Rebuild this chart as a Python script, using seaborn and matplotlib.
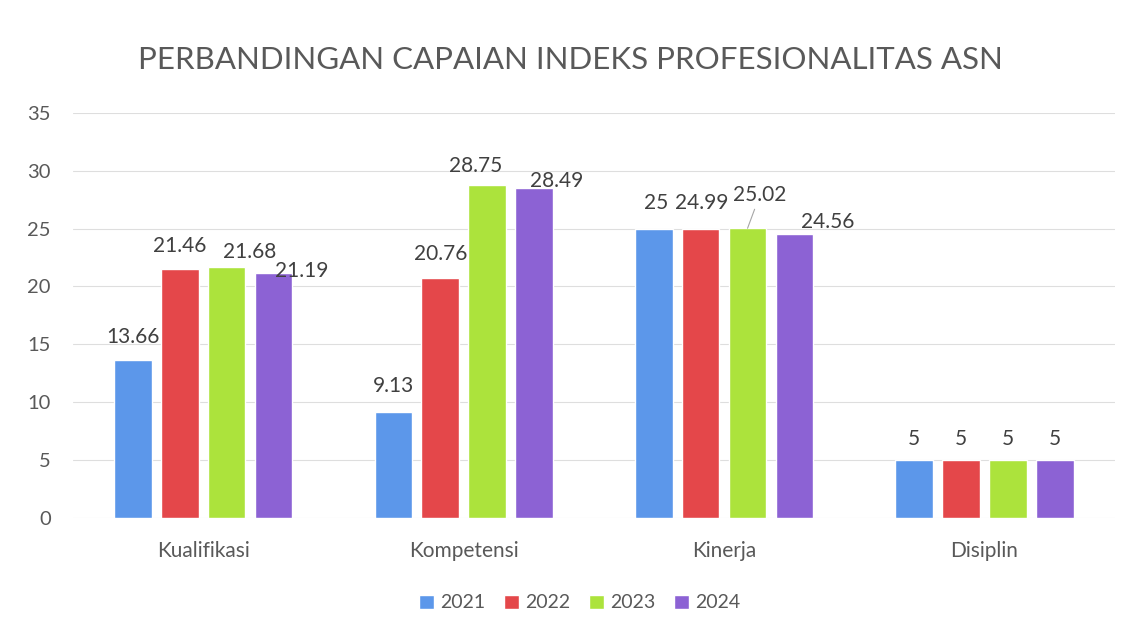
import matplotlib
matplotlib.use("Agg")
import matplotlib.pyplot as plt
import seaborn as sns
import pandas as pd

categories = ["Kualifikasi", "Kompetensi", "Kinerja", "Disiplin"]
years = ["2021", "2022", "2023", "2024"]
v2021 = [13.66, 9.13, 25, 5]
v2022 = [21.46, 20.76, 24.99, 5]
v2023 = [21.68, 28.75, 25.02, 5]
v2024 = [21.19, 28.49, 24.56, 5]
colors = ["#5c97ea", "#e4474a", "#acE33c", "#8c62d4"]

rows = []
for y, vals in zip(years, [v2021, v2022, v2023, v2024]):
    for c, v in zip(categories, vals):
        rows.append({"Kategori": c, "Tahun": y, "Nilai": v})
df = pd.DataFrame(rows)

sns.set_theme(style="white")
plt.rcParams["font.family"] = ["Lato", "DejaVu Sans"]

fig = plt.figure(figsize=(11.41, 6.30), dpi=100)
ax = fig.add_axes([0.064, 0.178, 0.913, 0.643])
sns.barplot(data=df, x="Kategori", y="Nilai", hue="Tahun", palette=colors,
            width=0.72, gap=0.2, saturation=1, ax=ax, errorbar=None)

ax.set_ylim(0, 35)
ax.set_yticks(range(0, 36, 5))
ax.set_xlim(-0.5, 3.5)
ax.grid(axis="y", color="#dedede", linewidth=0.8)
ax.set_axisbelow(True)
for s in ax.spines.values():
    s.set_visible(False)
ax.set_xlabel("")
ax.set_ylabel("")
ax.tick_params(axis="both", colors="#595959", length=0)
ax.tick_params(axis="y", pad=16, labelsize=14.5)
ax.tick_params(axis="x", pad=17, labelsize=15)

# label offsets in points: (year idx, category idx) -> (dx, dy)
offsets = {
    (0, 0): (0, 9), (1, 0): (0, 10), (2, 0): (16.5, 3.5), (3, 0): (20, -6),
    (0, 1): (0, 11.5), (1, 1): (0, 10), (2, 1): (-8, 6.5), (3, 1): (16.5, -2),
    (0, 2): (2, 11), (1, 2): (1, 11), (2, 2): (9, 17), (3, 2): (24, 1.5),
    (0, 3): (0, 8), (1, 3): (0, 8), (2, 3): (0, 8), (3, 3): (0, 8),
}
for yi, cont in enumerate(ax.containers):
    vals = [v2021, v2022, v2023, v2024][yi]
    for ci, p in enumerate(cont.patches):
        x = p.get_x() + p.get_width() / 2
        h = p.get_height()
        lbl = f"{vals[ci]:g}"
        dx, dy = offsets[(yi, ci)]
        kw = dict(xy=(x, h), xytext=(dx, dy), textcoords="offset points",
                  ha="center", va="bottom", fontsize=15, color="#404040")
        if (yi, ci) == (2, 2):
            kw["arrowprops"] = dict(arrowstyle="-", color="#a6a6a6", lw=0.8,
                                    shrinkA=1, shrinkB=0)
        ax.annotate(lbl, **kw)

fig.text(0.5, 0.905, "PERBANDINGAN CAPAIAN INDEKS PROFESIONALITAS ASN",
         ha="center", va="center", fontsize=22.5, color="#595959")

handles, labels = ax.get_legend_handles_labels()
ax.legend_.remove()
fig.legend(handles, labels, loc="center", bbox_to_anchor=(0.508, 0.043), ncol=4,
           frameon=False, fontsize=14, handlelength=0.75, handleheight=0.75,
           handletextpad=0.3, columnspacing=1.0, labelcolor="#595959")

fig.savefig("out.png", dpi=100)
